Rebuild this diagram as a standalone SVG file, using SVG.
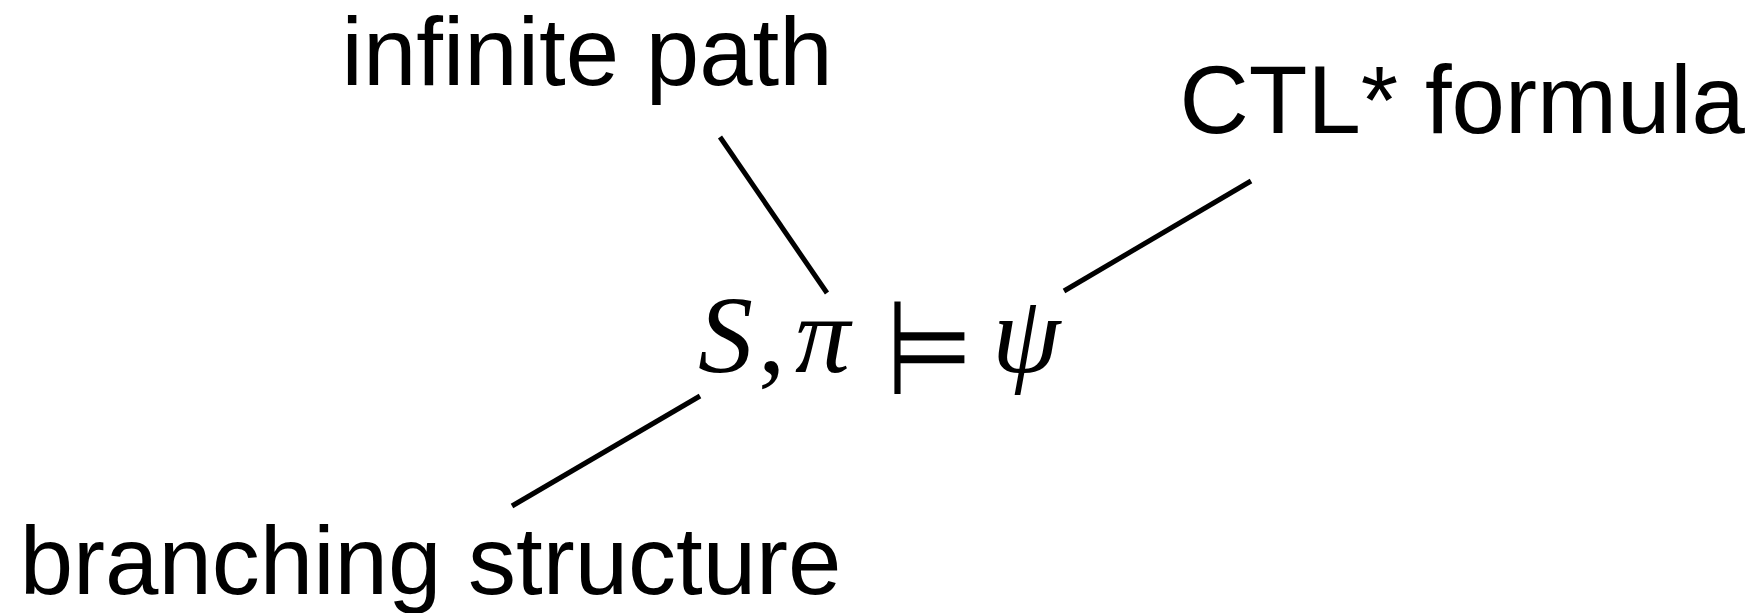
<svg xmlns="http://www.w3.org/2000/svg" width="1759" height="613" viewBox="0 0 1759 613">
<style>
.lbl{font-family:"Liberation Sans",Arial,Helvetica,sans-serif;font-size:96px;fill:#000}
.math{font-family:"Liberation Serif","Times New Roman",serif;font-style:italic;font-size:110px;fill:#000}
.sym{font-family:"DejaVu Sans",sans-serif;font-size:100px;fill:#000}
.conn line{stroke:#000;stroke-width:5;stroke-linecap:butt}
</style>
<rect width="1759" height="613" fill="#fff"/>
<g id="connectors" class="conn">
<line x1="720" y1="137" x2="827" y2="293"/>
<line x1="1251" y1="181" x2="1064" y2="291"/>
<line x1="700" y1="396" x2="512" y2="506"/>
</g>
<g id="node-path"><text class="lbl" x="341.6" y="85">infinite path</text></g>
<g id="node-formula"><text class="lbl" x="1179.5" y="133">CTL* formula</text></g>
<g id="node-structure"><text class="lbl" x="19.7" y="594">branching structure</text></g>
<g id="node-center">
<text class="math" y="372"><tspan x="698">S</tspan><tspan x="758" font-style="normal">,</tspan><tspan x="795">π</tspan><tspan x="992">ψ</tspan></text>
<text class="sym" transform="translate(886 394) scale(1 1.32)" x="0" y="0">⊨</text>
</g>
</svg>
